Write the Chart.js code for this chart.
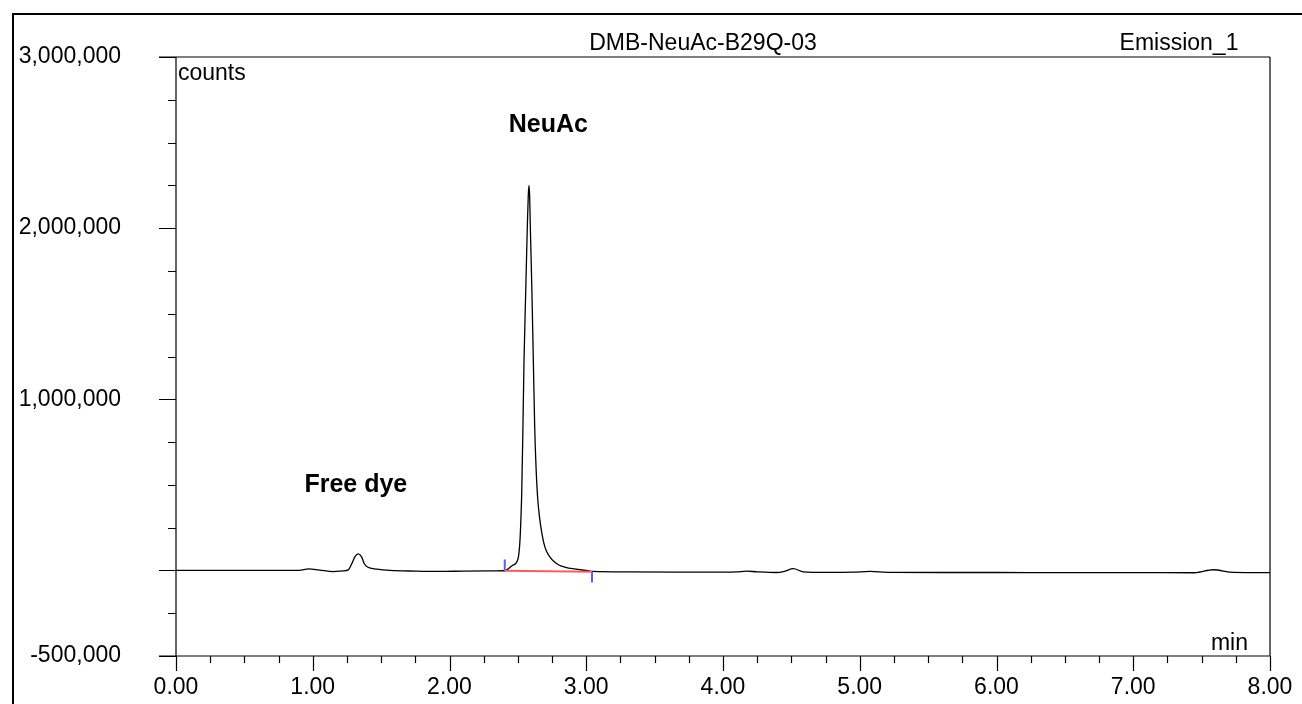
<!DOCTYPE html>
<html>
<head>
<meta charset="utf-8">
<script src="https://cdn.jsdelivr.net/npm/chart.js@4.4.1/dist/chart.umd.min.js"></script>
<style>
  html, body { margin: 0; padding: 0; background: #fff; }
  canvas { display: block; }
</style>
</head>
<body>
<canvas id="chrom" width="1302" height="704"></canvas>
<script>
// retention time (min) and detector response (counts)
const times = [
  0.00, 0.50, 0.90, 0.97, 1.05, 1.15, 1.22, 1.26, 1.285, 1.31, 1.333, 1.358, 1.377, 1.40, 1.47, 1.565,
  1.75, 1.93, 2.10, 2.30, 2.40, 2.46, 2.50, 2.512, 2.52, 2.528, 2.537, 2.545, 2.557, 2.569, 2.576, 2.581,
  2.586, 2.591, 2.603, 2.613, 2.623, 2.633, 2.645, 2.66, 2.675, 2.69, 2.71, 2.735, 2.76, 2.80, 2.85, 2.90,
  3.00, 3.05, 3.30, 3.70, 4.00,
  4.10, 4.17, 4.25, 4.39, 4.45, 4.514, 4.588, 4.75, 4.95, 5.075, 5.20, 5.60, 6.00, 6.50, 7.00, 7.45,
  7.585, 7.73, 8.00
];
const counts = [
  0, 0, 0, 9000, 2000, -7000, -3000, 3000, 39000, 82000, 97000, 78000, 39000, 20000, 8000, 0,
  -4000, -6000, -4000, -3000, -2000, 29000, 65000, 136000, 253000, 448000, 838000, 1228000, 1618000, 2008000, 2190000, 2250000,
  2190000, 2008000, 1618000, 1228000, 838000, 600000, 420000, 300000, 220000, 160000, 110000, 78000, 55000, 32000, 18000, 10000,
  0, -6000, -9000, -10000, -10000,
  -9000, -4000, -8000, -12000, -5000, 10000, -8000, -11000, -10000, -6000, -11000, -12000, -12000, -13000, -13000, -13500,
  4000, -11000, -13000
];

// integration marks for the NeuAc peak
const peakStart = [2.404, -2000];
const peakEnd = [3.042, -7000];
const startMark = [-2000, 64000];
const endMark = [-6000, -70000];

// axis ticks
const xMajor = [0, 1, 2, 3, 4, 5, 6, 7, 8];
const xMinorStep = 0.25;
const yLabelled = [3000000, 2000000, 1000000, -500000];
const yMajor = [3000000, 2000000, 1000000, 0, -500000];
const yMinorStep = 250000;

const title = "DMB-NeuAc-B29Q-03";
const channel = "Emission_1";
const peakNames = [
  { text: "NeuAc", t: 2.404, v: 2560000 },
  { text: "Free dye", t: 0.91, v: 460000 }
];

const FONT = "Arial, 'Liberation Sans', sans-serif";

const fmt = v => v.toLocaleString("en-US");

const trace = times.map((t, i) => ({ x: t, y: counts[i] }));

const frame = {
  id: "frame",
  afterDraw(chart) {
    const ctx = chart.ctx;
    const xs = chart.scales.x, ys = chart.scales.y;
    const L = xs.left, R = xs.right, T = ys.top, B = ys.bottom;
    ctx.save();
    // outer page frame
    ctx.strokeStyle = "#000";
    ctx.lineWidth = 2;
    ctx.strokeRect(13, 14, 1400, 800);

    // plot box
    ctx.lineWidth = 1.2;
    ctx.beginPath();
    ctx.moveTo(L - 17, T); ctx.lineTo(R, T);
    ctx.moveTo(R, T); ctx.lineTo(R, B);
    ctx.moveTo(L - 17, B); ctx.lineTo(R, B);
    ctx.moveTo(L, T); ctx.lineTo(L, B);
    ctx.stroke();

    // y ticks
    ctx.beginPath();
    for (let v = -500000; v <= 3000000; v += yMinorStep) {
      const y = Math.round(ys.getPixelForValue(v)) + 0.5;
      const len = yMajor.includes(v) ? 17 : 8;
      ctx.moveTo(L - len, y); ctx.lineTo(L, y);
    }
    // x ticks
    for (let t = 0; t <= 8.0001; t += xMinorStep) {
      const x = Math.round(xs.getPixelForValue(t)) + 0.5;
      const len = Math.abs(t - Math.round(t)) < 1e-6 ? 15 : 7;
      ctx.moveTo(x, B); ctx.lineTo(x, B + len);
    }
    ctx.stroke();

    // tick labels
    ctx.fillStyle = "#000";
    ctx.font = "23px " + FONT;
    ctx.textAlign = "right";
    ctx.textBaseline = "middle";
    yLabelled.forEach(v => ctx.fillText(fmt(v), L - 55, ys.getPixelForValue(v)));
    ctx.textAlign = "center";
    ctx.textBaseline = "top";
    xMajor.forEach(t => ctx.fillText(t.toFixed(2), xs.getPixelForValue(t), B + 20));

    // axis units and header
    ctx.textBaseline = "alphabetic";
    ctx.textAlign = "left";
    ctx.fillText("counts", L + 2, T + 23);
    ctx.textAlign = "right";
    ctx.fillText("min", R - 22, B - 6);
    ctx.textAlign = "center";
    ctx.fillText(title, 703, 50);
    ctx.fillText(channel, 1179, 50);

    // peak names
    ctx.font = "bold 25px " + FONT;
    ctx.textAlign = "left";
    peakNames.forEach(p => ctx.fillText(p.text, xs.getPixelForValue(p.t) + 4, ys.getPixelForValue(p.v)));
    ctx.restore();
  }
};

new Chart(document.getElementById("chrom"), {
  type: "line",
  data: {
    datasets: [
      {
        label: "baseline",
        data: [{ x: peakStart[0], y: peakStart[1] }, { x: peakEnd[0], y: peakEnd[1] }],
        borderColor: "#ff5a5a",
        borderWidth: 2,
        pointRadius: 0
      },
      {
        label: "start",
        data: [{ x: peakStart[0], y: startMark[0] }, { x: peakStart[0], y: startMark[1] }],
        borderColor: "#5a5aff",
        borderWidth: 2,
        pointRadius: 0
      },
      {
        label: "end",
        data: [{ x: peakEnd[0], y: endMark[0] }, { x: peakEnd[0], y: endMark[1] }],
        borderColor: "#5a5aff",
        borderWidth: 2,
        pointRadius: 0
      },
      {
        label: channel,
        data: trace,
        borderColor: "#000",
        borderWidth: 1.3,
        pointRadius: 0,
        cubicInterpolationMode: "monotone"
      }
    ]
  },
  options: {
    responsive: false,
    animation: false,
    events: [],
    layout: { padding: { left: 176, top: 57, right: 32, bottom: 48 } },
    plugins: { legend: { display: false }, tooltip: { enabled: false } },
    scales: {
      x: { type: "linear", min: 0, max: 8, display: false },
      y: { type: "linear", min: -500000, max: 3000000, display: false }
    }
  },
  plugins: [frame]
});
</script>
</body>
</html>
